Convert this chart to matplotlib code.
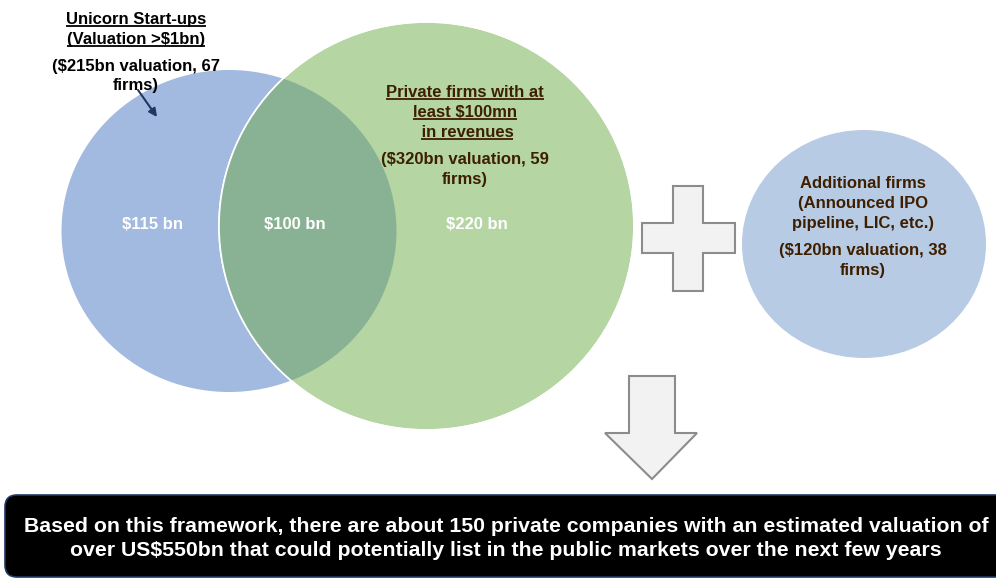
import matplotlib
matplotlib.use("Agg")
import matplotlib.pyplot as plt
from matplotlib.patches import Ellipse, Polygon, FancyBboxPatch

# ---- data ----
segment_labels = ["$115 bn", "$100 bn", "$220 bn"]
unicorn_title = ["Unicorn Start-ups", "(Valuation >$1bn)"]
unicorn_note = ["($215bn valuation, 67", "firms)"]
revenue_title = ["Private firms with at", "least $100mn", " in revenues"]
revenue_note = ["($320bn valuation, 59", "firms)"]
additional_title = ["Additional firms", "(Announced IPO", "pipeline, LIC, etc.)"]
additional_note = ["($120bn valuation, 38", "firms)"]
conclusion = ["Based on this framework, there are about 150 private companies with an estimated valuation of",
              "over US$550bn that could potentially list in the public markets over the next few years"]

FONT = "Liberation Sans"
BLUE = "#a2b9e0"
GREEN = "#b5d5a3"
OVERLAP = "#89b294"
RIGHT = "#b8cbe4"
BROWN = "#3d1f00"

fig = plt.figure(figsize=(9.96, 5.78), dpi=100)
ax = fig.add_axes([0, 0, 1, 1])
ax.set_xlim(0, 996)
ax.set_ylim(578, 0)
ax.axis("off")

# circles
blue = Ellipse((229, 231), 335, 322, facecolor=BLUE, edgecolor="none", zorder=1)
ax.add_patch(blue)
green = Ellipse((426.5, 226), 415, 408, facecolor=GREEN, edgecolor="white", lw=1.2, zorder=2)
ax.add_patch(green)
ov = Ellipse((229, 231), 335, 322, facecolor=OVERLAP, edgecolor="none", zorder=3)
ax.add_patch(ov)
ov.set_clip_path(green)
greenedge = Ellipse((426.5, 226), 415, 408, facecolor="none", edgecolor="white", lw=1.2, zorder=4)
ax.add_patch(greenedge)
right = Ellipse((864, 244), 244, 228, facecolor=RIGHT, edgecolor="none", zorder=1)
ax.add_patch(right)

# plus sign
px = [642, 673, 673, 703, 703, 735, 735, 703, 703, 673, 673, 642]
py = [223, 223, 186, 186, 223, 223, 253, 253, 291, 291, 253, 253]
ax.add_patch(Polygon(list(zip(px, py)), closed=True, facecolor="#f2f2f2",
                     edgecolor="#8c8c8c", lw=1.5, zorder=2))

# down arrow
axs = [629, 675, 675, 697, 652, 605, 629]
ays = [376, 376, 433, 433, 479, 433, 433]
ax.add_patch(Polygon(list(zip(axs, ays)), closed=True, facecolor="#f2f2f2",
                     edgecolor="#8c8c8c", lw=1.5, zorder=2))

# conclusion box
box = FancyBboxPatch((5 + 12, 495 + 12), 1010 - 24, 82 - 24,
                     boxstyle="round,pad=12", facecolor="black",
                     edgecolor="#1f3864", lw=1.2, zorder=2)
ax.add_patch(box)

renderer = fig.canvas.get_renderer()
inv = ax.transData.inverted()


def width_px(s, size):
    t = ax.text(0, 0, s, fontsize=size, fontweight="bold", family=FONT)
    w = t.get_window_extent(renderer).width
    t.remove()
    return w


def txt(x, y, s, color="black", size=12, underline=False):
    # y is the visual centre of the capitals; place by baseline
    cap = 0.716 * size * 100 / 72
    base = y + cap / 2
    t = ax.text(x, base, s, ha="center", va="baseline", fontsize=size,
                fontweight="bold", family=FONT, color=color, zorder=10)
    if underline:
        full = width_px(s + "x", size) - width_px("x", size)
        stripped = s.lstrip()
        lead = full - (width_px(stripped + "x", size) - width_px("x", size))
        x0 = x - full / 2 + lead
        x1 = x + full / 2
        uy = base + 2.2
        ax.plot([x0, x1], [uy, uy], color=color, lw=1.3, zorder=10,
                solid_capstyle="butt")
    return t


# segment values
for x, s in zip([152, 295, 477], segment_labels):
    txt(x, 223, s, color="white")

# unicorn
for y, s in zip([18, 38], unicorn_title):
    txt(136, y, s, underline=True)
for y, s in zip([65, 84], unicorn_note):
    txt(136, y, s)
ax.annotate("", xy=(157, 117), xytext=(138, 90),
            arrowprops=dict(arrowstyle="-|>", color="#1f3864", lw=1.5,
                            mutation_scale=12, shrinkA=0, shrinkB=0), zorder=10)

# revenue
for y, s in zip([91, 111, 131], revenue_title):
    txt(465, y, s, color=BROWN, underline=True)
for y, s in zip([158, 178], revenue_note):
    txt(465, y, s, color=BROWN)

# additional
for y, s in zip([182, 202, 222], additional_title):
    txt(863, y, s, color=BROWN)
for y, s in zip([249, 269], additional_note):
    txt(863, y, s, color=BROWN)

# conclusion text, fit first line to target width
size = 13 * 962 / width_px(conclusion[0], 13)
for y, s in zip([524, 548.5], conclusion):
    txt(506, y, s, color="white", size=size)

fig.savefig("out.png", dpi=100)
